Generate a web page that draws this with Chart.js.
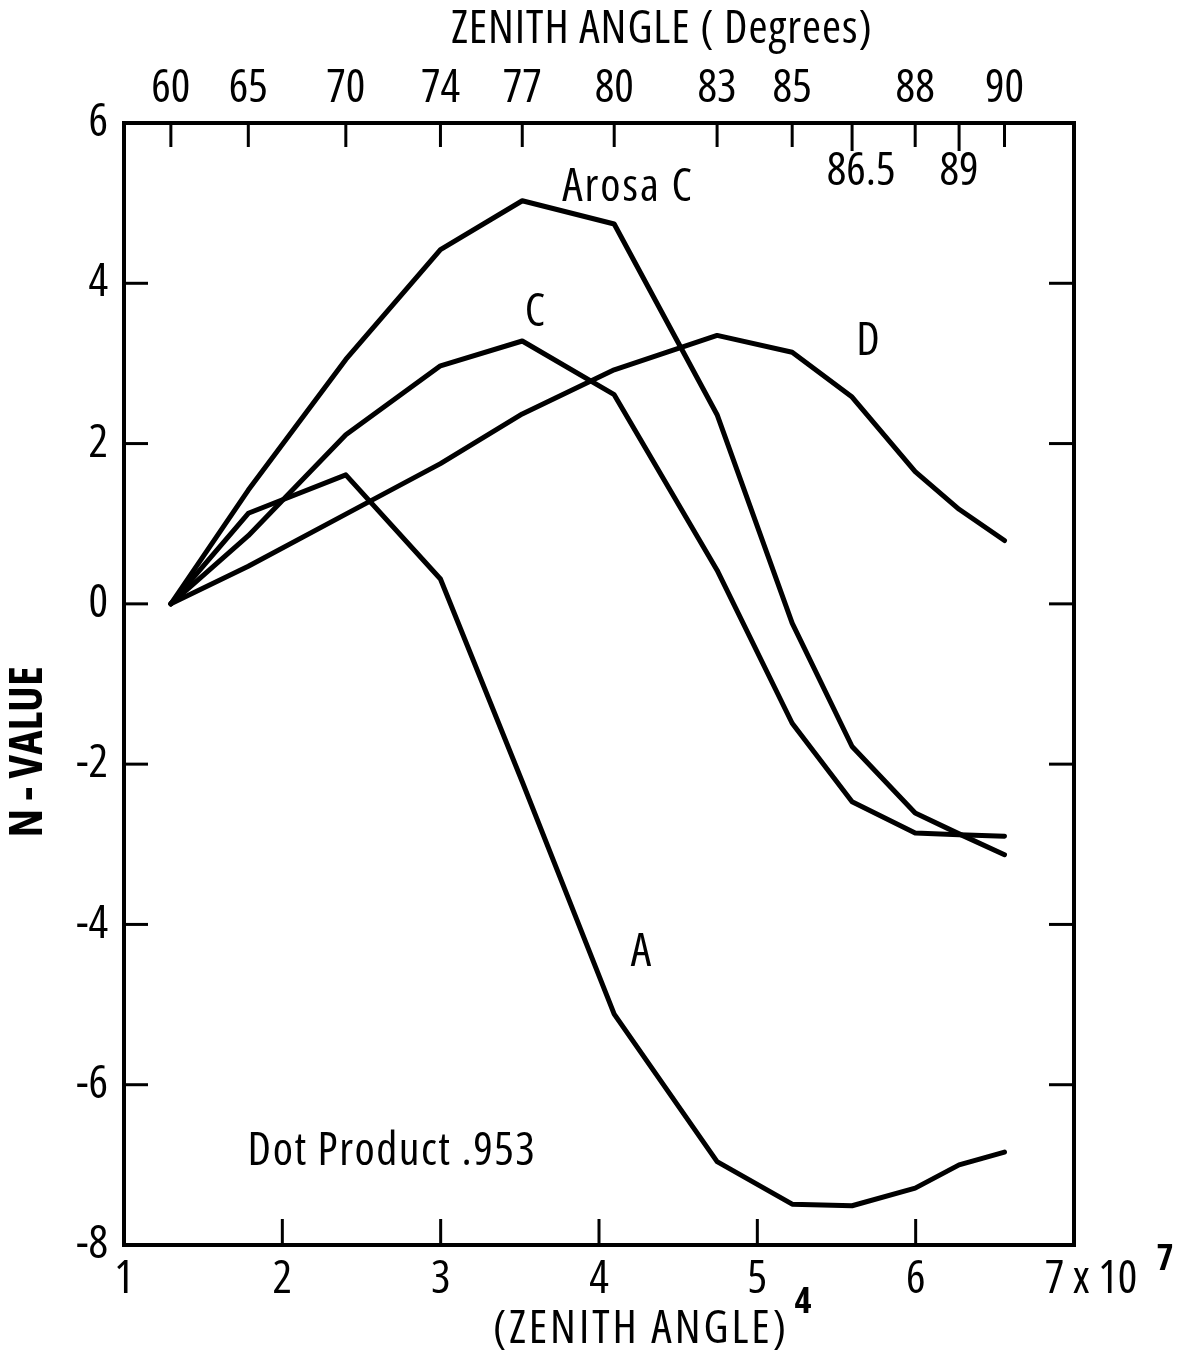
<!DOCTYPE html>
<html><head><meta charset="utf-8">
<script src="https://cdn.jsdelivr.net/npm/chart.js@4/dist/chart.umd.min.js"></script>
<style>html,body{margin:0;padding:0;background:#fff}canvas{display:block}</style>
</head><body>
<canvas id="c" width="1182" height="1359"></canvas>
<script>
// Zenith angle (degrees) at which each curve was sampled
const zenithDegrees = [60, 65, 70, 74, 77, 80, 83, 85, 86.5, 88, 89, 90];
// N-values
const arosaC = [0, 1.42, 3.05, 4.42, 5.03, 4.74, 2.36, -0.24, -1.78, -2.61, -2.87, -3.13];
const curveC = [0, 0.85, 2.11, 2.97, 3.28, 2.61, 0.42, -1.49, -2.47, -2.86, -2.88, -2.90];
const curveD = [0, 0.47, 1.12, 1.75, 2.37, 2.92, 3.35, 3.14, 2.58, 1.65, 1.18, 0.79];
const curveA = [0, 1.13, 1.61, 0.31, -2.22, -5.12, -6.96, -7.49, -7.51, -7.29, -7.00, -6.84];

// Axis ticks
const bottomTicks = [1, 2, 3, 4, 5, 6, 7];
const leftTicks = [-8, -6, -4, -2, 0, 2, 4, 6];
const topTickDegrees = [60, 65, 70, 74, 77, 80, 83, 85, 86.5, 88, 89, 90];
const topLabelsAbove = [60, 65, 70, 74, 77, 80, 83, 85, 88, 90];
const topLabelsBelow = [86.5, 89];

// (zenith angle)^4 in units of 10^7
const toX = d => Math.pow(d, 4) / 1e7;
const pts = vals => zenithDegrees.map((d, i) => ({ x: toX(d), y: vals[i] }));

const FAMILY = "'Open Sans','Roboto','DejaVu Sans Condensed',sans-serif";
const WEIGHT = '500 condensed';
const FS = 46;
const fontStr = (size, w) => `normal ${w || WEIGHT} ${size}px ${FAMILY}`;

const ds = (label, vals) => ({
  label, data: pts(vals), xAxisID: 'x', yAxisID: 'y',
  borderColor: '#000', borderWidth: 5, pointRadius: 0, fill: false, tension: 0,
  borderJoinStyle: 'round', borderCapStyle: 'round'
});

const deco = {
  id: 'deco',
  afterDraw(chart) {
    const { ctx, chartArea: a, scales } = chart;
    const x = scales.x, y = scales.y, x2 = scales.x2;
    const line = (x1, y1, xx, yy) => { ctx.beginPath(); ctx.moveTo(x1, y1); ctx.lineTo(xx, yy); ctx.stroke(); };
    ctx.save();
    ctx.strokeStyle = '#000';
    ctx.lineCap = 'butt';
    // inward tick marks
    ctx.lineWidth = 3;
    leftTicks.forEach(v => {
      if (v === -8 || v === 6) return;
      const py = y.getPixelForValue(v);
      line(a.left, py, a.left + 24, py);
      line(a.right, py, a.right - 25, py);
    });
    bottomTicks.forEach(v => {
      if (v === 1 || v === 7) return;
      const px = x.getPixelForValue(v);
      line(px, a.bottom, px, a.bottom - 26);
    });
    topTickDegrees.forEach(d => {
      const px = x2.getPixelForValue(toX(d));
      line(px, a.top, px, a.top + (topLabelsBelow.includes(d) ? 28 : 24));
    });
    // frame
    ctx.lineWidth = 4;
    ctx.strokeRect(a.left, a.top, a.right - a.left, a.bottom - a.top);

    // texts
    ctx.fillStyle = '#000';
    ctx.textAlign = 'center';
    ctx.textBaseline = 'middle';
    const txt = (s, tx, ty, size, sp, w) => {
      ctx.font = fontStr(size, w);
      ctx.letterSpacing = sp + 'px';
      ctx.fillText(s, tx, ty);
    };
    topLabelsBelow.forEach(d => {
      const px = x2.getPixelForValue(toX(d));
      txt(String(d), px + (d === 86.5 ? 9 : 0), 172, FS, 0);
    });
    txt('ZENITH ANGLE ( Degrees)', 662, 30, FS, 1);
    txt('(ZENITH ANGLE)', 641, 1330, FS, 3);
    txt('Arosa C', 628, 188, FS, 2);
    txt('C', 535, 313, FS, 0);
    txt('D', 868, 342, FS, 0);
    txt('A', 641, 953, FS, 0);
    txt('Dot Product .953', 392, 1152, FS, 1.5);
    txt('4', 803, 1303, 36, 0, '700 condensed');
    txt('7', 1165, 1260, 36, 0, '700 condensed');
    // y title
    ctx.font = fontStr(FS, '700 condensed');
    ctx.letterSpacing = '0px';
    ctx.translate(29, 752);
    ctx.rotate(-Math.PI / 2);
    ctx.fillText('N - VALUE', 0, 0);
    ctx.restore();
  }
};

const tickFont = { family: FAMILY, size: FS, weight: WEIGHT };

new Chart(document.getElementById('c').getContext('2d'), {
  type: 'line',
  data: { datasets: [ds('Arosa C', arosaC), ds('C', curveC), ds('D', curveD), ds('A', curveA)] },
  options: {
    responsive: false, animation: false, devicePixelRatio: 1,
    layout: { padding: { left: 0, right: 108, top: 0, bottom: 0 } },
    plugins: { legend: { display: false }, tooltip: { enabled: false } },
    scales: {
      x: {
        type: 'linear', position: 'bottom', min: 1, max: 7,
        afterBuildTicks(s) { s.ticks = bottomTicks.map(v => ({ value: v })); },
        afterFit(s) { s.height = 1359 - 1245; },
        grid: { display: false, drawTicks: false }, border: { display: false },
        ticks: { autoSkip: false, maxRotation: 0, padding: 7, color: '#000', font: tickFont,
          callback: v => (v === 7 ? '    7 x 10' : String(v)) }
      },
      x2: {
        type: 'linear', position: 'top', min: 1, max: 7,
        afterBuildTicks(s) { s.ticks = topLabelsAbove.map(d => ({ value: toX(d) })); },
        afterFit(s) { s.height = 123; },
        grid: { display: false, drawTicks: false }, border: { display: false },
        ticks: { autoSkip: false, maxRotation: 0, padding: 7, color: '#000', font: tickFont,
          callback: (v, i) => String(topLabelsAbove[i]) }
      },
      y: {
        type: 'linear', position: 'left', min: -8, max: 6,
        afterBuildTicks(s) { s.ticks = leftTicks.map(v => ({ value: v })); },
        afterFit(s) { s.width = 124; },
        grid: { display: false, drawTicks: false }, border: { display: false },
        ticks: { autoSkip: false, padding: 16, color: '#000', font: tickFont }
      }
    }
  },
  plugins: [deco]
});
</script>
</body></html>
